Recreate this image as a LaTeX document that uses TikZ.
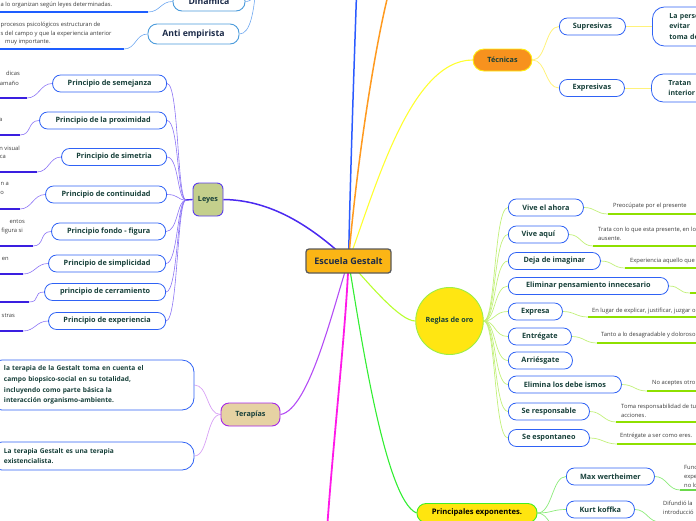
\documentclass[tikz,border=0pt]{standalone}
\usepackage{fontspec}
\setmainfont{Open Sans}
\usetikzlibrary{shapes.geometric,calc}
\pgfdeclarelayer{background}
\pgfsetlayers{background,main}
\definecolor{subblue}{HTML}{2F62F5}
\definecolor{topblue}{HTML}{4A9BDB}
\definecolor{nodetxt}{HTML}{17403A}
\definecolor{navytxt}{HTML}{1B2A48}
\definecolor{notetxt}{HTML}{3A3A3A}
\definecolor{centerfill}{HTML}{FBB515}
\definecolor{centerbd}{HTML}{5A5A5A}
\definecolor{tecfill}{HTML}{F7921E}
\definecolor{tecbd}{HTML}{FFEE10}
\definecolor{leyesfill}{HTML}{C4CF8C}
\definecolor{leyesbd}{HTML}{5A3DEB}
\definecolor{terfill}{HTML}{E6D2A3}
\definecolor{terbd}{HTML}{A526E8}
\definecolor{regfill}{HTML}{FFE612}
\definecolor{regbd}{HTML}{9CEE44}
\definecolor{prfill}{HTML}{FFE50F}
\definecolor{prbd}{HTML}{44EE22}
\definecolor{brblue}{HTML}{2B5BFF}
\definecolor{brorange}{HTML}{FF9A1F}
\definecolor{bryellow}{HTML}{FFFF30}
\definecolor{brleyes}{HTML}{4B2AF0}
\definecolor{brpurple}{HTML}{B44CF5}
\definecolor{brmagenta}{HTML}{FF1AE8}
\definecolor{brgreen}{HTML}{33EE33}
\definecolor{brlime}{HTML}{B8FF30}
\definecolor{leycurve}{HTML}{8C74F5}
\definecolor{leyul}{HTML}{3A1FE0}
\definecolor{topcurve}{HTML}{6FA8F0}
\definecolor{topul}{HTML}{1E5EFF}
\definecolor{regcurve}{HTML}{C2F07A}
\definecolor{regul}{HTML}{8EE000}
\definecolor{prcurve}{HTML}{8CEB7A}
\definecolor{prul}{HTML}{6BD94B}
\definecolor{tercurve}{HTML}{D7A0F5}
\definecolor{teccurve}{HTML}{FFF27A}
\begin{document}
\begin{tikzpicture}[x=1pt,y=-1pt,
  subnode/.style={draw=subblue, line width=0.8pt, fill=white, rounded corners=8pt,
    minimum height=17pt, inner sep=0pt, font=\fontsize{7.3}{8}\selectfont\bfseries, text=nodetxt},
  lnode/.style={subnode, anchor=east},
  rnode/.style={subnode, anchor=west},
  topnode/.style={draw=topblue, line width=0.9pt, fill=white, rounded corners=9pt,
    inner sep=0pt, font=\fontsize{8.7}{10}\selectfont\bfseries, text=navytxt},
  tbox/.style={draw=subblue, line width=0.8pt, fill=white, rounded corners=12pt,
    inner xsep=14pt, inner ysep=2pt, align=left, font=\fontsize{6.6}{10.8}\selectfont\bfseries, text=nodetxt},
  rbox/.style={draw=subblue, line width=0.8pt, fill=white, rounded corners=12pt, anchor=west,
    inner xsep=17pt, inner ysep=2pt, align=left, text width=100pt,
    font=\fontsize{7}{10.8}\selectfont\bfseries, text=nodetxt},
  note/.style={font=\fontsize{5.8}{9}\selectfont, text=notetxt, inner sep=0pt},
  noteE/.style={note, anchor=east},
  noteW/.style={note, anchor=west, align=left},
  mainnode/.style={line width=0.9pt, inner sep=0pt, font=\fontsize{7.2}{8}\selectfont\bfseries, text=nodetxt},
  br/.style={line width=1.5pt},
  ley/.style={draw=leycurve, line width=0.6pt},
  leyu/.style={draw=leyul, line width=1.4pt},
  topc/.style={draw=topcurve, line width=0.6pt},
  topu/.style={draw=topul, line width=1.4pt},
  regc/.style={draw=regcurve, line width=0.7pt},
  regu/.style={draw=regul, line width=1.4pt},
  prc/.style={draw=prcurve, line width=0.7pt},
  pru/.style={draw=prul, line width=1.4pt},
  terc/.style={draw=tercurve, line width=0.7pt},
  tecc/.style={draw=teccurve, line width=0.8pt}
]
\useasboundingbox (0,0) rectangle (696,520);

% ---------- central node ----------
\node[draw=centerbd, line width=1.3pt, fill=centerfill, rounded corners=3pt, minimum width=85pt,
  minimum height=24pt, inner sep=0pt, font=\fontsize{9}{10}\selectfont\bfseries, text=navytxt]
  (c) at (348.5,261) {Escuela Gestalt};

% ---------- main nodes ----------
\node[mainnode, draw=tecbd, fill=tecfill, rounded corners=11pt, minimum width=59pt, minimum height=22pt] (tec) at (502.5,60) {Técnicas};
\node[mainnode, draw=leyesbd, fill=leyesfill, rounded corners=6pt, minimum width=30pt, minimum height=33pt] (leyes) at (208,199.5) {Leyes};
\node[mainnode, draw=terbd, fill=terfill, rounded corners=8pt, minimum width=59pt, minimum height=23pt] (ter) at (250.5,414.5) {Terapías};
\node[mainnode, ellipse, draw=regbd, fill=regfill, minimum width=65pt, minimum height=67pt] (reg) at (449.5,321) {Reglas de oro};
\node[mainnode, draw=prbd, fill=prfill, rounded corners=9pt, minimum width=120pt, minimum height=19pt, text=black, font=\fontsize{7.6}{9}\selectfont\bfseries] (pr) at (477,513) {Principales exponentes.};

% off-screen parents / children
\coordinate (topA) at (357,-20);
\coordinate (topB) at (392,-20);
\coordinate (topL) at (256,-14);
\coordinate (botM) at (326,545);
\coordinate (pex3) at (570,548);

% ---------- top left ----------
\node[topnode, minimum width=72pt, minimum height=19pt] (din) at (209,1.5) {Dinámica};
\node[topnode, minimum width=91pt, minimum height=20pt] (anti) at (193.5,34) {Anti empirista};
\node[noteW] (dt) at (0.5,5) {a lo organizan según leyes determinadas.};
\node[noteW] (at1) at (0.5,25) {procesos psicológicos estructuran de};
\node[noteW] (at2) at (0.5,34) {s del campo y que la experiencia anterior};
\node[noteW] (at3) at (5,42.5) {muy importante.};
\coordinate (dulA) at (148,12); \coordinate (dulB) at (-5,12);
\coordinate (aulA) at (124,49); \coordinate (aulB) at (-5,49);

% ---------- Leyes children ----------
\node[lnode, minimum width=114pt] (p1) at (167,83.5) {Principio de semejanza};
\node[lnode, minimum width=127pt] (p2) at (167,120.5) {Principio de la proximidad};
\node[lnode, minimum width=105pt] (p3) at (167,157) {Principio de simetria};
\node[lnode, minimum width=121pt] (p4) at (167,194.5) {Principio de continuidad};
\node[lnode, minimum width=114pt] (p5) at (166,231.5) {Principio fondo - figura};
\node[lnode, minimum width=117pt] (p6) at (166,263.5) {Principio de simplicidad};
\node[lnode, minimum width=121pt] (p7) at (166,292) {principio de cerramiento};
\node[lnode, minimum width=117pt] (p8) at (166,321) {Principio de experiencia};
\coordinate (lj) at (186,200);

\node[noteE] (n1a) at (20,73) {dicas};
\node[noteE] (n1b) at (19,83) {amaño};
\node[noteE] (n2a) at (2.5,120) {a};
\node[noteE] (n3a) at (20,148) {n visual};
\node[noteE] (n3b) at (6,157) {ca};
\node[noteE] (n4a) at (9,184) {an a};
\node[noteE] (n4b) at (4,193) {o};
\node[noteE] (n5a) at (25,222) {entos};
\node[noteE] (n5b) at (23,231) {figura si};
\node[noteE] (n6a) at (9,259) {s en};
\node[noteE] (n8a) at (15,316) {stras};

\coordinate (u1) at (27,98);  \coordinate (v1) at (-5,98);
\coordinate (u2) at (20,135); \coordinate (v2) at (-5,135);
\coordinate (u3) at (37,172); \coordinate (v3) at (-5,172);
\coordinate (u4) at (20,209); \coordinate (v4) at (-5,209);
\coordinate (u5) at (33,246); \coordinate (v5) at (-5,246);
\coordinate (u6) at (23,274); \coordinate (v6) at (-5,274);
\coordinate (u7) at (29,302); \coordinate (v7) at (-5,302);
\coordinate (u8) at (23,331); \coordinate (v8) at (-5,331);

% ---------- Terapias children ----------
\node[tbox, minimum width=204pt, minimum height=50pt, text width=176pt] (tb1) at (92,385)
  {la terapia de la Gestalt toma en cuenta el\\campo biopsico-social en su totalidad,\\incluyendo como parte básica la\\interacción organismo-ambiente.};
\node[tbox, minimum width=204pt, minimum height=28pt, text width=176pt] (tb2) at (92,456)
  {La terapia Gestalt es una terapia\\existencialista.};

% ---------- Tecnicas children ----------
\node[rnode, minimum width=66pt] (sup) at (559,26.5) {Supresivas};
\node[rnode, minimum width=65pt] (exq) at (559,88) {Expresivas};
\node[rbox, minimum height=39pt] (sb) at (652,26.5) {La persona\\evitar\\toma de};
\node[rbox, minimum height=28pt] (eb) at (651,88) {Tratan\\interior};

% ---------- Reglas children ----------
\node[rnode, minimum width=75pt] (r1) at (508,207.5) {Vive el ahora};
\node[rnode, minimum width=60pt] (r2) at (508,234.5) {Vive aquí};
\node[rnode, minimum width=92pt] (r3) at (508,261) {Deja de imaginar};
\node[rnode, minimum width=160pt] (r4) at (508,286) {Eliminar pensamiento innecesario};
\node[rnode, minimum width=54pt] (r5) at (508,311.5) {Expresa};
\node[rnode, minimum width=63pt] (r6) at (508,336.5) {Entrégate};
\node[rnode, minimum width=64pt] (r7) at (508,360.5) {Arriésgate};
\node[rnode, minimum width=113pt] (r8) at (508,384.5) {Elimina los debe ismos};
\node[rnode, minimum width=81pt] (r9) at (508,411.5) {Se responsable};
\node[rnode, minimum width=81pt] (r10) at (508,438) {Se espontaneo};

\node[noteW] (q1) at (613,206) {Preocúpate por el presente};
\node[noteW] (q2) at (598,233.5) {Trata con lo que esta presente, en lo\\ausente.};
\node[noteW] (q3) at (630,261) {Experiencia aquello que};
\node[noteW] (q5) at (592,311) {En lugar de explicar, justificar, juzgar o};
\node[noteW] (q6) at (601,335) {Tanto a lo desagradable y doloroso};
\node[noteW] (q8) at (652,383) {No aceptes otro};
\node[noteW] (q9) at (621,410.5) {Toma responsabilidad de tu\\acciones.};
\node[noteW] (q10) at (620,436) {Entrégate a ser como eres.};

\coordinate (w1) at (608,214); \coordinate (z1) at (700,214);
\coordinate (w2) at (593,246); \coordinate (z2) at (700,246);
\coordinate (w3) at (625,268); \coordinate (z3) at (700,268);
\coordinate (w4) at (690,293); \coordinate (z4) at (700,293);
\coordinate (w5) at (588,317); \coordinate (z5) at (700,317);
\coordinate (w6) at (597,343); \coordinate (z6) at (700,343);
\coordinate (w8) at (647,391); \coordinate (z8) at (700,391);
\coordinate (w9) at (616,422); \coordinate (z9) at (700,422);
\coordinate (w10) at (617,444); \coordinate (z10) at (700,444);

% ---------- Principales children ----------
\node[rnode, minimum width=88pt] (max) at (566,476.5) {Max wertheimer};
\node[rnode, minimum width=68pt] (kurt) at (566,509.5) {Kurt koffka};
\node[noteW] (mx) at (684,476.5) {Func\\expe\\no lo};
\node[noteW] (kx) at (663,507.5) {Difundió la\\introducció};
\coordinate (wm) at (680,490); \coordinate (zm) at (700,490);
\coordinate (wk) at (660,522); \coordinate (zk) at (700,522);

% ---------- connectors ----------
\begin{pgfonlayer}{background}
  % main branches
  \draw[br, brblue] (c.center) .. controls (351,150) and (355,40) .. (topA);
  \draw[br, brorange] (c.center) .. controls (356,170) and (375,40) .. (topB);
  \draw[line width=1.1pt, bryellow] (c.center) .. controls (375,190) and (410,60) .. (tec.west);
  \draw[br, brleyes] (c.center) .. controls (300,215) and (260,200) .. (leyes.east);
  \draw[line width=1.1pt, brpurple] (c.center) .. controls (335,300) and (310,410) .. (ter.east);
  \draw[line width=1.8pt, brmagenta] (c.center) .. controls (346,330) and (332,450) .. (botM);
  \draw[line width=1.1pt, brgreen] (c.center) .. controls (360,330) and (385,500) .. (pr.west);
  \draw[line width=1.1pt, brlime] (c.center) .. controls (370,285) and (400,321) .. (reg.west);

  % top left
  \draw[topc] (din.east) .. controls +(8,0) and +(-1,8) .. (topL);
  \draw[topc] (anti.east) .. controls +(11,0) and +(-2,25) .. (topL);
  \draw[topc] (dulA) .. controls +(12,0) and +(-12,0) .. (din.west);
  \draw[topc] (aulA) .. controls +(12,0) and +(-12,0) .. (anti.west);
  \draw[topu] (dulA) -- (dulB);
  \draw[topu] (aulA) -- (aulB);

  % Leyes children
  \foreach \i in {1,...,8} {
    \draw[ley] (p\i.east) .. controls +(12,0) and (177,200) .. (lj);
    \draw[ley] (p\i.west) .. controls +(-12,0) and +(12,0) .. (u\i);
    \draw[leyu] (u\i) -- (v\i);
  }
  \draw[line width=1.4pt, brleyes] (lj) -- (leyes.west);

  % Terapias children
  \draw[terc] (ter.west) .. controls +(-14,0) and +(14,0) .. (tb1.east);
  \draw[terc] (ter.west) .. controls +(-14,0) and +(14,0) .. (tb2.east);

  % Tecnicas children
  \draw[tecc] (tec.east) .. controls +(14,0) and +(-14,0) .. (sup.west);
  \draw[tecc] (tec.east) .. controls +(14,0) and +(-14,0) .. (exq.west);
  \draw[tecc] (sup.east) -- (sb.west);
  \draw[tecc] (exq.east) -- (eb.west);

  % Reglas children
  \foreach \i in {1,...,10} {
    \draw[regc] (reg.east) .. controls +(12,0) and +(-14,0) .. (r\i.west);
  }
  \foreach \i in {1,2,3,4,5,6,8,9,10} {
    \draw[regc] (r\i.east) .. controls +(12,0) and +(-12,0) .. (w\i);
    \draw[regu] (w\i) -- (z\i);
  }

  % Principales children
  \draw[prc] (pr.east) .. controls +(15,0) and +(-14,0) .. (max.west);
  \draw[prc] (pr.east) .. controls +(15,0) and +(-14,0) .. (kurt.west);
  \draw[prc] (pr.east) .. controls +(15,0) and +(-14,0) .. (pex3);
  \draw[prc] (max.east) .. controls +(12,0) and +(-12,0) .. (wm);
  \draw[pru] (wm) -- (zm);
  \draw[prc] (kurt.east) .. controls +(12,0) and +(-12,0) .. (wk);
  \draw[pru] (wk) -- (zk);
\end{pgfonlayer}
\end{tikzpicture}
\end{document}
